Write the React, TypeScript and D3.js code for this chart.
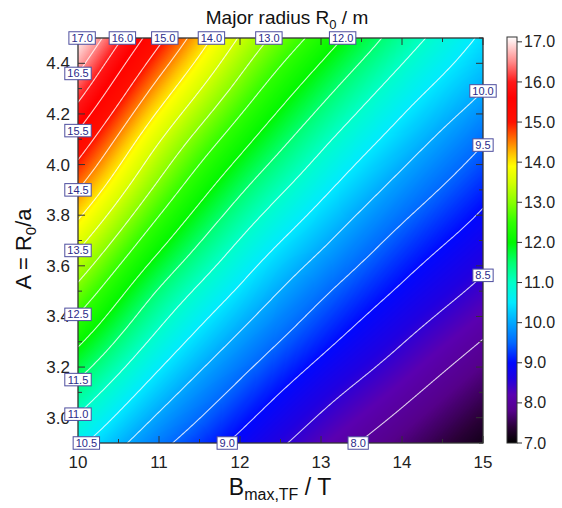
import React, { useMemo } from "react";
import * as d3 from "d3";

// Grid: R0 (m) at B = 10..15 T (columns), A = 2.9..4.5 (rows)
const B_GRID = [10, 11, 12, 13, 14, 15];
const A_GRID = [2.9, 3.1, 3.3, 3.5, 3.7, 3.9, 4.1, 4.3, 4.5];
const R0_B10 = [10.6, 11.31, 12.08, 12.86, 13.66, 14.5, 15.35, 16.24, 17.1];
const R0_B11 = [9.64, 10.23, 10.84, 11.46, 12.16, 12.86, 13.55, 14.32, 15.13];
const R0_B12 = [8.89, 9.37, 9.89, 10.43, 10.98, 11.57, 12.2, 12.84, 13.46];
const R0_B13 = [8.25, 8.67, 9.13, 9.59, 10.1, 10.61, 11.13, 11.69, 12.29];
const R0_B14 = [7.72, 8.12, 8.52, 8.93, 9.35, 9.81, 10.28, 10.76, 11.26];
const R0_B15 = [7.18, 7.58, 7.98, 8.38, 8.76, 9.14, 9.55, 10.02, 10.42];

const CONTOUR_LEVELS = [8.0, 8.5, 9.0, 9.5, 10.0, 10.5, 11.0, 11.5, 12.0, 12.5, 13.0, 13.5, 14.0, 14.5, 15.0, 15.5, 16.0, 16.5, 17.0];
const LABELS_TOP = [17.0, 16.0, 15.0, 14.0, 13.0, 12.0];
const LABELS_LEFT = [16.5, 15.5, 14.5, 13.5, 12.5, 11.5, 11.0];
const LABELS_RIGHT = [10.0, 9.5, 8.5];
const LABELS_BOTTOM = [10.5, 9.0, 8.0];

const X_TICKS = [10, 11, 12, 13, 14, 15];
const X_MINOR = [10.5, 11.5, 12.5, 13.5, 14.5];
const Y_TICKS = [3.0, 3.2, 3.4, 3.6, 3.8, 4.0, 4.2, 4.4];
const Y_MINOR = [2.9, 3.1, 3.3, 3.5, 3.7, 3.9, 4.1, 4.3, 4.5];
const CBAR_TICKS = [7, 8, 9, 10, 11, 12, 13, 14, 15, 16, 17];
const CBAR_DOMAIN = [7.0, 17.12];

const COLOR_VALUES = [7.0, 7.4, 7.8, 8.2, 8.6, 9.0, 9.5, 10.0, 10.5, 11.0, 11.5, 12.0, 12.5, 13.0, 13.5, 13.9, 14.2, 14.6, 15.0, 15.6, 16.0, 16.5, 17.12];
const COLOR_HEX = ["#000000", "#2a0038", "#55008a", "#5a00b0", "#2000e0", "#0008ff", "#0068ff", "#00a8ff", "#00eaff", "#00ffc8", "#00ff70", "#00f800", "#30ff00", "#88ff00", "#d4ff00", "#ffff00", "#ffc400", "#ff6a00", "#ff1000", "#ff0000", "#ff1818", "#ff8a8a", "#ffffff"];

const FONT = "Liberation Sans, Arial, Helvetica, sans-serif";

function cr1(vals: number[], t: number): number {
  const n = vals.length;
  let i = Math.floor(t);
  if (i < 0) i = 0;
  if (i > n - 2) i = n - 2;
  const u = t - i;
  const get = (k: number) =>
    k < 0 ? 2 * vals[0] - vals[1] : k > n - 1 ? 2 * vals[n - 1] - vals[n - 2] : vals[k];
  const p0 = get(i - 1), p1 = get(i), p2 = get(i + 1), p3 = get(i + 2);
  return 0.5 * (2 * p1 + (-p0 + p2) * u + (2 * p0 - 5 * p1 + 4 * p2 - p3) * u * u + (-p0 + 3 * p1 - 3 * p2 + p3) * u * u * u);
}

// bisection for a monotone function; clamps to the interval ends when not bracketed
function solve(fn: (v: number) => number, lo: number, hi: number, target: number): number {
  const flo0 = fn(lo) - target;
  const fhi0 = fn(hi) - target;
  if (flo0 === 0) return lo;
  if (fhi0 === 0) return hi;
  if ((flo0 < 0) === (fhi0 < 0)) {
    return Math.abs(flo0) < Math.abs(fhi0) ? lo : hi;
  }
  let flo = flo0;
  for (let k = 0; k < 50; k++) {
    const mid = (lo + hi) / 2;
    const fm = fn(mid) - target;
    if (fm === 0) return mid;
    if ((fm < 0) === (flo < 0)) { lo = mid; flo = fm; } else hi = mid;
  }
  return (lo + hi) / 2;
}

export default function App() {
  const W = 562, H = 508;
  const PL = 78, PR = 483, PT = 38, PB = 443;
  const x = d3.scaleLinear().domain([10, 15]).range([PL, PR]);
  const y = d3.scaleLinear().domain([2.9, 4.5]).range([PB, PT]);
  const tB = d3.scaleLinear().domain([B_GRID[0], B_GRID[B_GRID.length - 1]]).range([0, B_GRID.length - 1]);
  const tA = d3.scaleLinear().domain([A_GRID[0], A_GRID[A_GRID.length - 1]]).range([0, A_GRID.length - 1]);
  const columns = [R0_B10, R0_B11, R0_B12, R0_B13, R0_B14, R0_B15];
  const colAt = (A: number) => columns.map((c) => cr1(c, tA(A)));
  const f = (B: number, A: number) => cr1(colAt(A), tB(B));

  const color = d3.scaleLinear<string>().domain(COLOR_VALUES).range(COLOR_HEX).interpolate(d3.interpolateRgb).clamp(true);
  const cb = d3.scaleLinear().domain(CBAR_DOMAIN).range([PB, 37]);

  const heat = useMemo(() => {
    const w = PR - PL, h = PB - PT;
    const canvas = document.createElement("canvas");
    canvas.width = w; canvas.height = h;
    const ctx = canvas.getContext("2d")!;
    const img = ctx.createImageData(w, h);
    const N = 1024;
    const lut: number[][] = [];
    for (let i = 0; i < N; i++) {
      const v = CBAR_DOMAIN[0] + (CBAR_DOMAIN[1] - CBAR_DOMAIN[0]) * i / (N - 1);
      const c = d3.rgb(color(v));
      lut.push([c.r, c.g, c.b]);
    }
    for (let py = 0; py < h; py++) {
      const A = y.invert(PT + py + 0.5);
      const cols = colAt(A);
      for (let px = 0; px < w; px++) {
        const B = x.invert(PL + px + 0.5);
        const v = cr1(cols, tB(B));
        let idx = Math.round((v - CBAR_DOMAIN[0]) / (CBAR_DOMAIN[1] - CBAR_DOMAIN[0]) * (N - 1));
        idx = Math.max(0, Math.min(N - 1, idx));
        const c = lut[idx];
        const o = (py * w + px) * 4;
        img.data[o] = c[0]; img.data[o + 1] = c[1]; img.data[o + 2] = c[2]; img.data[o + 3] = 255;
      }
    }
    ctx.putImageData(img, 0, 0);
    return canvas.toDataURL();
  }, []);

  const lineGen = d3.line<[number, number]>().x((d) => x(d[0])).y((d) => y(d[1]));
  const contours = useMemo(() => {
    return CONTOUR_LEVELS.map((Lv) => {
      const top = (B: number) => f(B, 4.5);
      const bot = (B: number) => f(B, 2.9);
      if (top(10) < Lv || bot(15) > Lv) return null;
      const Bhi = top(15) >= Lv ? 15 : solve(top, 10, 15, Lv);
      const Blo = bot(10) <= Lv ? 10 : solve(bot, 10, 15, Lv);
      if (Bhi <= Blo) return null;
      const n = 240;
      const pts: [number, number][] = d3.range(0, n + 1).map((i) => {
        const B = Blo + (Bhi - Blo) * i / n;
        const A = solve((a) => f(B, a), 2.9, 4.5, Lv);
        return [B, A];
      });
      return { level: Lv, d: lineGen(pts) || "" };
    }).filter(Boolean) as { level: number; d: string }[];
  }, []);

  const labels: { level: number; px: number; py: number }[] = [];
  LABELS_TOP.forEach((lv) => labels.push({ level: lv, px: x(solve((b) => f(b, 4.5), 10, 15, lv)), py: y(4.5) }));
  LABELS_BOTTOM.forEach((lv) => labels.push({ level: lv, px: x(solve((b) => f(b, 2.9), 10, 15, lv)), py: y(2.9) }));
  LABELS_LEFT.forEach((lv) => labels.push({ level: lv, px: x(10), py: y(solve((a) => f(10, a), 2.9, 4.5, lv)) }));
  LABELS_RIGHT.forEach((lv) => labels.push({ level: lv, px: x(15), py: y(solve((a) => f(15, a), 2.9, 4.5, lv)) }));

  const frame = "#333";
  const gradStops = COLOR_VALUES.map((v, i) => ({
    off: (v - CBAR_DOMAIN[0]) / (CBAR_DOMAIN[1] - CBAR_DOMAIN[0]),
    c: COLOR_HEX[i],
  }));

  return (
    <svg width={W} height={H} style={{ position: "absolute", left: 0, top: 0, background: "#fff" }} fontFamily={FONT}>
      <defs>
        <linearGradient id="cbg" x1="0" y1="1" x2="0" y2="0">
          {gradStops.map((s, i) => (
            <stop key={i} offset={s.off} stopColor={s.c} />
          ))}
        </linearGradient>
        <clipPath id="plotclip">
          <rect x={PL} y={PT} width={PR - PL} height={PB - PT} />
        </clipPath>
      </defs>
      <rect width={W} height={H} fill="#fff" />
      {/* title */}
      <text x={287} y={24} fontSize={19} textAnchor="middle" fill="#111">
        Major radius R<tspan dy={4.5} fontSize={13}>0</tspan><tspan dy={-4.5}> / m</tspan>
      </text>
      {/* heatmap */}
      <image href={heat} x={PL} y={PT} width={PR - PL} height={PB - PT} preserveAspectRatio="none" />
      {/* contour lines */}
      <g clipPath="url(#plotclip)" fill="none" stroke="#fff" strokeWidth={1.1} strokeOpacity={0.8}>
        {contours.map((c) => (
          <path key={c.level} d={c.d} />
        ))}
      </g>
      {/* frame */}
      <rect x={PL} y={PT} width={PR - PL} height={PB - PT} fill="none" stroke={frame} strokeWidth={1.3} />
      <g stroke={frame} strokeWidth={1}>
        {X_TICKS.map((t) => (
          <g key={"xt" + t}>
            <line x1={x(t)} x2={x(t)} y1={PB} y2={PB - 7} />
            <line x1={x(t)} x2={x(t)} y1={PT} y2={PT + 7} />
          </g>
        ))}
        {X_MINOR.map((t) => (
          <g key={"xm" + t}>
            <line x1={x(t)} x2={x(t)} y1={PB} y2={PB - 4} />
            <line x1={x(t)} x2={x(t)} y1={PT} y2={PT + 4} />
          </g>
        ))}
        {Y_TICKS.map((t) => (
          <g key={"yt" + t}>
            <line x1={PL} x2={PL + 7} y1={y(t)} y2={y(t)} />
            <line x1={PR} x2={PR - 7} y1={y(t)} y2={y(t)} />
          </g>
        ))}
        {Y_MINOR.map((t) => (
          <g key={"ym" + t}>
            <line x1={PL} x2={PL + 4} y1={y(t)} y2={y(t)} />
            <line x1={PR} x2={PR - 4} y1={y(t)} y2={y(t)} />
          </g>
        ))}
      </g>
      {/* tick labels */}
      <g fontSize={17} fill="#222">
        {X_TICKS.map((t) => (
          <text key={"xl" + t} x={x(t)} y={468} textAnchor="middle">{t}</text>
        ))}
        {Y_TICKS.map((t) => (
          <text key={"yl" + t} x={70} y={y(t)} dy="0.35em" textAnchor="end">{t.toFixed(1)}</text>
        ))}
      </g>
      {/* axis titles */}
      <text x={280} y={495} fontSize={23} textAnchor="middle" fill="#111">
        B<tspan dy={5} fontSize={16}>max,TF</tspan><tspan dy={-5}> / T</tspan>
      </text>
      <text transform="translate(31,249) rotate(-90)" fontSize={22} textAnchor="middle" fill="#111">
        A = R<tspan dy={5} fontSize={15}>0</tspan><tspan dy={-5}>/a</tspan>
      </text>
      {/* contour labels */}
      <g fontSize={11}>
        {labels.map((l, i) => {
          const txt = l.level.toFixed(1);
          const w = 11 * (0.556 * (txt.length - 1) + 0.278) + 5;
          return (
            <g key={"lab" + i}>
              <rect x={l.px - w / 2} y={l.py - 6.25} width={w} height={12.5} fill="#fff" stroke="#4d4d9e" strokeWidth={1} />
              <text x={l.px} y={l.py} dy="0.36em" textAnchor="middle" fill="#2b2b8a">{txt}</text>
            </g>
          );
        })}
      </g>
      {/* colorbar */}
      <rect x={507} y={cb(CBAR_DOMAIN[1])} width={10} height={cb(CBAR_DOMAIN[0]) - cb(CBAR_DOMAIN[1])} fill="url(#cbg)" stroke={frame} strokeWidth={1} />
      <g stroke={frame} strokeWidth={1}>
        {CBAR_TICKS.map((t) => (
          <line key={"ct" + t} x1={517} x2={522} y1={cb(t)} y2={cb(t)} />
        ))}
      </g>
      <g fontSize={16} fill="#222">
        {CBAR_TICKS.map((t) => (
          <text key={"cl" + t} x={524} y={cb(t)} dy="0.35em">{t.toFixed(1)}</text>
        ))}
      </g>
    </svg>
  );
}
